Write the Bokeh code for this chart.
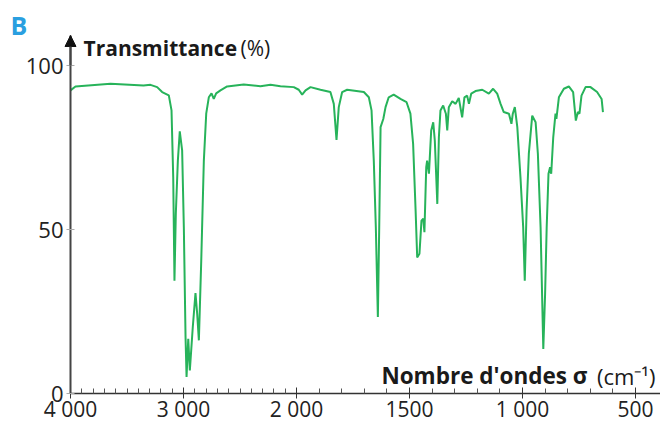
import numpy as np
from bokeh.plotting import figure
from bokeh.models import FixedTicker, Label, Arrow, NormalHead, Range1d, ColumnDataSource
from bokeh.embed import file_html
from bokeh.resources import INLINE

# --- data ---
sigma = [4000, 3956, 3646, 3354, 3292, 3233, 3189, 3130, 3106, 3091,
         3080, 3068, 3050, 3033, 3012, 2997, 2982, 2973, 2958, 2944,
         2918, 2894, 2879, 2864, 2843, 2820, 2799, 2776, 2752, 2732,
         2711, 2673, 2614, 2467, 2319, 2230, 2142, 2024, 1990, 1975,
         1960, 1938, 1894, 1850, 1835, 1823, 1813, 1798, 1776, 1702,
         1680, 1668, 1658, 1649, 1640, 1634, 1628, 1616, 1606, 1592,
         1570, 1540, 1513, 1496, 1484, 1473, 1466, 1456, 1447, 1439,
         1434, 1426, 1422, 1414, 1404, 1395, 1388, 1377, 1370, 1363,
         1351, 1339, 1333, 1326, 1311, 1296, 1282, 1267, 1257, 1245,
         1237, 1227, 1208, 1178, 1149, 1130, 1112, 1097, 1083, 1060,
         1049, 1043, 1034, 1023, 1009, 997, 990, 982, 972, 957,
         942, 932, 920, 908, 900, 893, 885, 878, 873, 864,
         854, 850, 839, 817, 795, 776, 764, 755, 748, 739,
         721, 699, 670, 650, 644]
transmittance = [92.5, 93.7, 94.5, 94.0, 94.2, 93.5, 92.0, 91.0, 86.4, 66.0,
                 34.5, 54.9, 71.1, 80.0, 74.2, 50.8, 17.3, 5.1, 16.8, 7.1,
                 20.3, 30.7, 24.4, 16.3, 40.6, 71.1, 85.4, 90.4, 91.6, 89.9,
                 91.6, 92.5, 93.7, 94.3, 93.8, 94.2, 93.8, 93.5, 92.7, 91.2,
                 92.5, 93.5, 92.7, 92.0, 88.4, 77.4, 87.4, 92.0, 92.7, 92.0,
                 90.4, 86.4, 71.1, 50.8, 23.4, 50.8, 81.3, 83.8, 87.4, 90.4,
                 91.2, 89.9, 88.9, 85.4, 76.2, 55.9, 41.6, 42.7, 52.8, 53.4,
                 49.3, 69.1, 71.1, 67.1, 80.3, 82.8, 77.2, 57.9, 78.2, 86.4,
                 87.9, 85.4, 80.3, 87.4, 89.2, 88.4, 90.2, 84.3, 90.4, 90.9,
                 88.4, 91.5, 92.3, 92.7, 91.5, 93.0, 91.5, 88.4, 85.9, 85.4,
                 82.3, 85.4, 87.4, 81.3, 66.0, 50.8, 34.5, 55.9, 73.2, 84.8,
                 82.8, 73.2, 50.8, 13.7, 30.5, 50.8, 67.1, 69.1, 67.1, 78.2,
                 85.4, 83.8, 90.4, 93.0, 93.7, 92.0, 83.3, 85.9, 85.4, 90.9,
                 93.5, 93.5, 92.0, 89.9, 85.9]

x_major = [4000, 3000, 2000, 1500, 1000, 500]
x_major_labels = ["4 000", "3 000", "2 000", "1500", "1 000", "500"]
x_minor = [3900, 3800, 3700, 3600, 3500, 3400, 3300, 3200, 3100,
           2900, 2800, 2700, 2600, 2500, 2400, 2300, 2200, 2100,
           1900, 1800, 1700, 1600, 1400, 1300, 1200, 1100,
           900, 800, 700, 600]
y_major = [0, 50, 100]

GREEN = "#27b35a"
FONT = "Open Sans"
TEXT = "#1a1a1a"


def to_u(s):
    """IR spectrum axis: scale doubles below 2000 cm-1."""
    s = np.asarray(s, dtype=float)
    return np.where(s >= 2000, (4000 - s) / 1000.0, 2 + (2000 - s) / 500.0)


# the frame covers the whole canvas; the axes are placed at u = 0 and T = 0
p = figure(width=660, height=423, output_backend="svg", toolbar_location=None,
           x_range=Range1d(-0.6195, 5.2212), y_range=Range1d(-9.055, 119.91),
           min_border_left=0, min_border_right=0, min_border_top=0,
           min_border_bottom=0)
p.outline_line_color = None
p.xgrid.visible = False
p.ygrid.visible = False
p.background_fill_color = "white"

src = ColumnDataSource(dict(u=to_u(sigma), t=transmittance))
p.line("u", "t", source=src, line_color=GREEN, line_width=2)

# x axis (drawn at T = 0)
xa = p.xaxis[0]
xa.fixed_location = 0
xa.bounds = (0, 5.23)
xa.ticker = FixedTicker(ticks=list(to_u(x_major)), minor_ticks=list(to_u(x_minor)))
xa.major_label_overrides = {float(u): l for u, l in zip(to_u(x_major), x_major_labels)}
xa.axis_line_color = "#333333"
xa.axis_line_width = 1.5
xa.major_tick_line_color = "#333333"
xa.major_tick_in = 6
xa.major_tick_out = 5
xa.minor_tick_line_color = "#555555"
xa.minor_tick_in = 5
xa.minor_tick_out = 0
xa.major_label_text_font = FONT
xa.major_label_text_font_size = "21px"
xa.major_label_text_color = "#222222"
xa.major_label_standoff = -4

# y axis (drawn at u = 0)
ya = p.yaxis[0]
ya.fixed_location = 0
ya.bounds = (0, 109.24)
ya.ticker = FixedTicker(ticks=y_major, minor_ticks=[])
ya.axis_line_color = "#444444"
ya.axis_line_width = 2
ya.major_tick_line_color = "#aaaaaa"
ya.major_tick_in = 4
ya.major_tick_out = 4
ya.minor_tick_line_color = None
ya.major_label_text_font = FONT
ya.major_label_text_font_size = "22px"
ya.major_label_text_color = "#222222"
ya.major_label_standoff = 3

# arrow head on the y axis
p.add_layout(Arrow(end=NormalHead(size=11, fill_color="#111111", line_color="#111111"),
                   x_start=0, y_start=100, x_end=0, y_end=109.24,
                   line_color="#444444", line_width=2))

# texts
p.add_layout(Label(x=-0.531, y=107.4, text="B", text_font=FONT, text_font_style="bold",
                   text_font_size="25px", text_color="#2a9fe0"))
p.add_layout(Label(x=0.115, y=101.2, text="Transmittance", text_font=FONT,
                   text_font_style="bold", text_font_size="21px", text_color=TEXT))
p.add_layout(Label(x=1.504, y=101.2, text="(%)", text_font=FONT,
                   text_font_size="21px", text_color=TEXT))
p.add_layout(Label(x=4.575, y=1.0, text="Nombre d'ondes σ", text_font=FONT,
                   text_font_style="bold", text_font_size="22.5px", text_color=TEXT,
                   text_align="right"))
p.add_layout(Label(x=5.177, y=1.0, text="(cm⁻¹)", text_font=FONT,
                   text_font_size="22px", text_color=TEXT, text_align="right"))

open("out.html", "w").write(file_html(p, INLINE))
